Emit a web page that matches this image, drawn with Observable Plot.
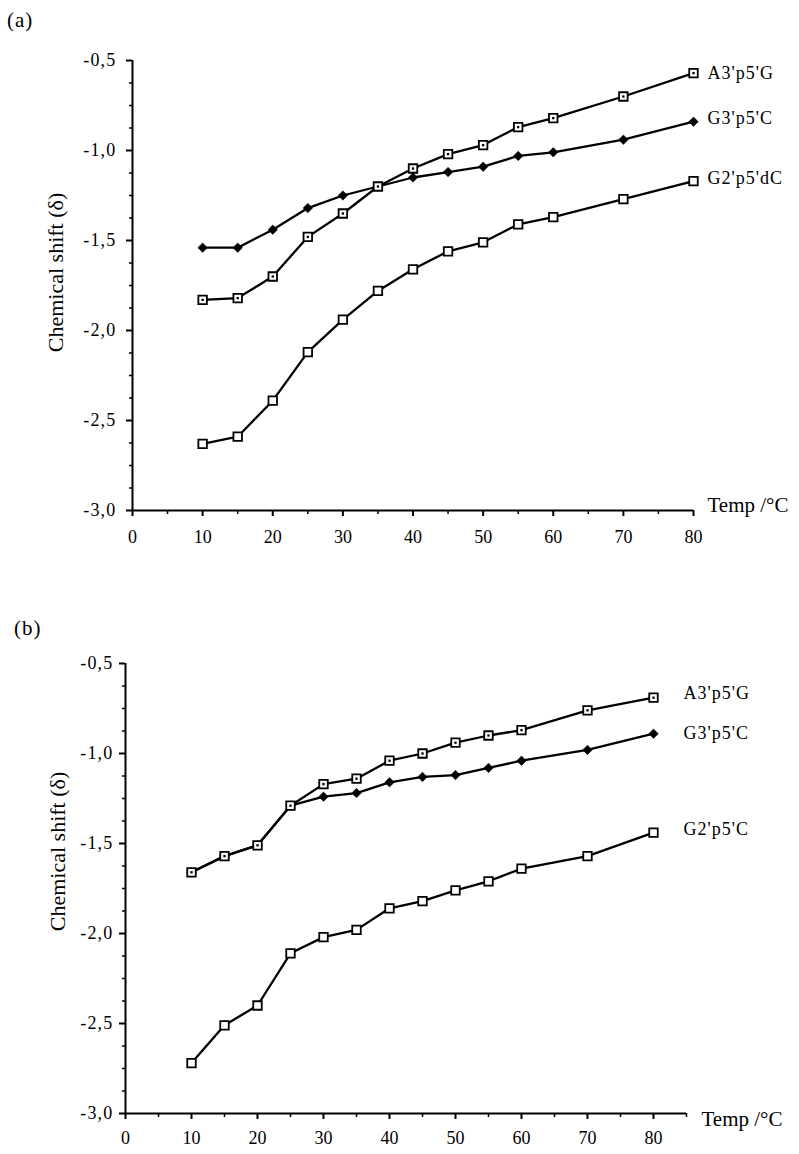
<!DOCTYPE html>
<html>
<head>
<meta charset="utf-8">
<script src="https://cdn.jsdelivr.net/npm/d3@7"></script>
<script src="https://cdn.jsdelivr.net/npm/@observablehq/plot@0.6"></script>
<style>
  html, body { margin: 0; padding: 0; background: white; }
  #root { position: relative; width: 799px; height: 1154px; font-family: "Liberation Serif", "Times New Roman", serif; }
  .plab { position: absolute; font-size: 21px; color: black; z-index: 5; line-height: 1; letter-spacing: 1px; }
  .panel { position: absolute; left: 0; z-index: 1; }
</style>
</head>
<body>
<div id="root">
  <div class="plab" style="left:7px; top:10px;">(a)</div>
  <div class="plab" style="left:14px; top:618px;">(b)</div>
  <div class="panel" id="pa" style="top:0px;"></div>
  <div class="panel" id="pb" style="top:600px;"></div>
</div>
<script>
// ---------- data ----------
const temps = [10, 15, 20, 25, 30, 35, 40, 45, 50, 55, 60, 70, 80];

// panel (a)
const namesA = ["A3'p5'G", "G3'p5'C", "G2'p5'dC"];
const a_A3 = [-1.83, -1.82, -1.70, -1.48, -1.35, -1.20, -1.10, -1.02, -0.97, -0.87, -0.82, -0.70, -0.57];
const a_G3 = [-1.54, -1.54, -1.44, -1.32, -1.25, -1.20, -1.15, -1.12, -1.09, -1.03, -1.01, -0.94, -0.84];
const a_G2 = [-2.63, -2.59, -2.39, -2.12, -1.94, -1.78, -1.66, -1.56, -1.51, -1.41, -1.37, -1.27, -1.17];

// panel (b)
const namesB = ["A3'p5'G", "G3'p5'C", "G2'p5'C"];
const b_A3 = [-1.66, -1.57, -1.51, -1.29, -1.17, -1.14, -1.04, -1.00, -0.94, -0.90, -0.87, -0.76, -0.69];
const b_G3 = [-1.66, -1.57, -1.51, -1.29, -1.24, -1.22, -1.16, -1.13, -1.12, -1.08, -1.04, -0.98, -0.89];
const b_G2 = [-2.72, -2.51, -2.40, -2.11, -2.02, -1.98, -1.86, -1.82, -1.76, -1.71, -1.64, -1.57, -1.44];

// ticks
const yMajor = [-3.0, -2.5, -2.0, -1.5, -1.0, -0.5];
const yMinor = [-2.875, -2.75, -2.625, -2.375, -2.25, -2.125, -1.875, -1.75, -1.625, -1.375, -1.25, -1.125, -0.875, -0.75, -0.625];
const xMajor = [0, 10, 20, 30, 40, 50, 60, 70, 80];
const xMinorA = [5, 15, 25, 35, 45, 55, 65, 75];
const xMinorB = [5, 15, 25, 35, 45, 55, 65, 75, 85];
const yLabel = "Chemical shift (\u03B4)";
const xLabel = "Temp /\u00B0C";

// ---------- helpers ----------
const FONT = '"Liberation Serif", "Times New Roman", serif';
const fmt = d => d3.format(".1f")(d).replace("\u2212", "-").replace(".", ",");

function rowsOf(names, series) {
  const out = [];
  names.forEach((s, k) => temps.forEach((t, i) => out.push({s, t, v: series[k][i]})));
  return out;
}

function panel(o) {
  const rows = rowsOf(o.names, o.series);
  const n = temps.length - 1;
  const labelMarks = o.names.map((s, k) =>
    Plot.text([{s, t: temps[n], v: o.series[k][n]}], {x: "t", y: "v", text: "s", textAnchor: "start", dx: o.labelDx, dy: o.labelDy[k], fontSize: 18, className: "serlab"})
  );
  const svg = Plot.plot({
    width: 799,
    height: o.height,
    marginTop: o.mt, marginBottom: o.mb, marginLeft: o.ml, marginRight: o.mr,
    style: {fontFamily: FONT, fontSize: "18px", color: "black", background: "transparent", overflow: "visible"},
    x: {domain: o.xDomain, axis: null},
    y: {domain: [-3, -0.5], axis: null},
    marks: [
      Plot.axisY({ticks: yMajor, tickSize: 6, tickPadding: o.yPad, tickFormat: fmt, strokeWidth: 2, label: null, fontSize: 18, className: "ytl"}),
      Plot.axisY({ticks: yMinor, tickSize: 3, tickFormat: () => "", strokeWidth: 1.5, label: null}),
      Plot.axisX({ticks: xMajor, tickSize: 6, tickPadding: o.xPad, tickFormat: d => String(d), strokeWidth: 2, label: null, fontSize: 18, className: "xtl"}),
      Plot.axisX({ticks: o.xMinor, tickSize: 4, tickFormat: () => "", strokeWidth: 1.5, label: null}),
      Plot.ruleX([0], {y1: -3, y2: -0.5, strokeWidth: 2}),
      Plot.ruleY([-3], {x1: o.xDomain[0], x2: o.xDomain[1], strokeWidth: 2}),
      Plot.line(rows, {x: "t", y: "v", z: "s", stroke: "black", strokeWidth: 2.3}),
      Plot.dot(rows.filter(d => d.s === o.names[1]), {x: "t", y: "v", symbol: "diamond2", r: 4.3, fill: "black", stroke: "black", strokeWidth: 0.5}),
      Plot.dot(rows.filter(d => d.s !== o.names[1]), {x: "t", y: "v", symbol: "square", r: 4.8, fill: "white", stroke: "black", strokeWidth: 1.8}),
      Plot.dot(rows.filter(d => d.s === o.names[0]), {x: "t", y: "v", symbol: "square", r: 1.3, fill: "black"}),
      ...labelMarks,
      Plot.text([xLabel], {frameAnchor: "bottom-right", textAnchor: "start", dx: o.xlDx, dy: o.xlDy, fontSize: 21}),
      Plot.text([yLabel], {frameAnchor: "left", textAnchor: "middle", rotate: -90, dx: o.ylDx, dy: o.ylDy, fontSize: 22})
    ]
  });
  // slightly wider letter spacing to match the scanned typeface
  svg.querySelectorAll("g.ytl text").forEach(t => t.setAttribute("letter-spacing", "1.2"));
  svg.querySelectorAll("g.serlab text").forEach(t => t.setAttribute("letter-spacing", "1"));
  return svg;
}

document.getElementById("pa").append(panel({
  names: namesA, series: [a_A3, a_G3, a_G2],
  height: 550, mt: 60, mb: 40, ml: 132, mr: 106,
  xDomain: [0, 80], xMinor: xMinorA, xPad: 14, yPad: 10,
  labelDx: 14, labelDy: [0, -3, -3],
  xlDx: 14, xlDy: 1, ylDx: -77, ylDy: -13
}));

document.getElementById("pb").append(panel({
  names: namesB, series: [b_A3, b_G3, b_G2],
  height: 554, mt: 63, mb: 41, ml: 125, mr: 113,
  xDomain: [0, 85], xMinor: xMinorB, xPad: 12, yPad: 6,
  labelDx: 30, labelDy: [-4, 0, -3],
  xlDx: 15, xlDy: 12, ylDx: -68, ylDy: -37
}));
</script>
</body>
</html>
